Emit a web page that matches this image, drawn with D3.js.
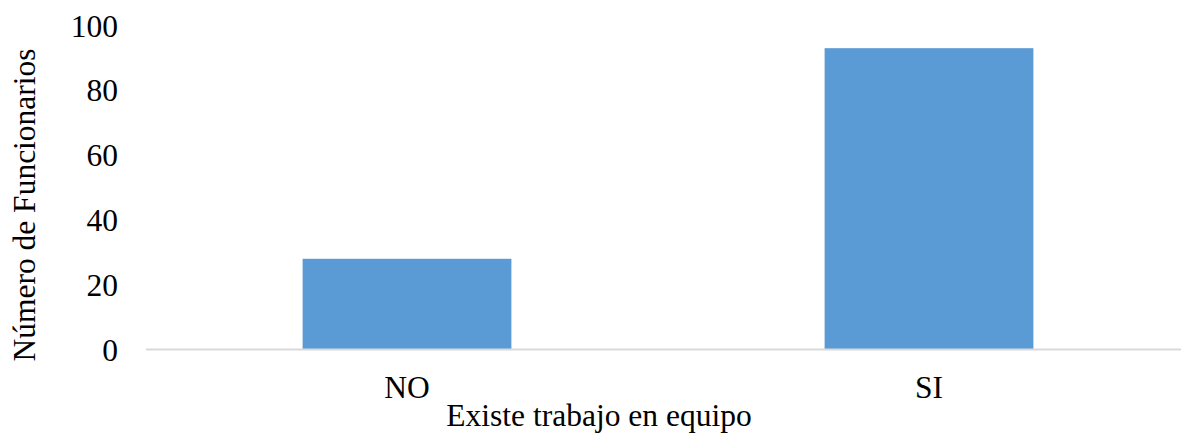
<!DOCTYPE html>
<html>
<head>
<meta charset="utf-8">
<script src="https://cdn.jsdelivr.net/npm/d3@7"></script>
<style>
html,body{margin:0;padding:0;background:#fff;}
text{font-family:"Liberation Serif","Times New Roman",serif;fill:#000;}
</style>
</head>
<body>
<svg id="chart" width="1181" height="434"></svg>
<script>
const categories = ["NO", "SI"];
const values = [28, 93];
const yTicks = [0, 20, 40, 60, 80, 100];
const xTitle = "Existe trabajo en equipo";
const yTitle = "Número de Funcionarios";

const svg = d3.select("#chart");
const x = d3.scaleBand().domain(categories).range([146, 1190]).paddingInner(0.6).paddingOuter(0.3);
const y = d3.scaleLinear().domain([0, 100]).range([349.5, 25.5]);

svg.selectAll("rect.bar").data(values).enter().append("rect")
  .attr("class", "bar")
  .attr("x", (d, i) => x(categories[i]))
  .attr("width", x.bandwidth())
  .attr("y", d => y(d))
  .attr("height", d => y(0) - y(d))
  .attr("fill", "#5B9BD5");

svg.append("line")
  .attr("x1", 146).attr("x2", 1181)
  .attr("y1", y(0)).attr("y2", y(0))
  .attr("stroke", "#d9d9d9").attr("stroke-width", 2);

svg.selectAll("text.ytick").data(yTicks).enter().append("text")
  .attr("class", "ytick")
  .attr("x", 118)
  .attr("y", d => y(d))
  .attr("dy", "0.35em")
  .attr("text-anchor", "end")
  .style("font-size", "31.5px")
  .text(d => d);

svg.selectAll("text.xtick").data(categories).enter().append("text")
  .attr("class", "xtick")
  .attr("x", d => x(d) + x.bandwidth() / 2)
  .attr("y", 398)
  .attr("text-anchor", "middle")
  .style("font-size", "31.5px")
  .text(d => d);

svg.append("text")
  .attr("x", 599).attr("y", 426)
  .attr("text-anchor", "middle")
  .style("font-size", "31.5px")
  .text(xTitle);

svg.append("text")
  .attr("transform", "translate(35,205) rotate(-90)")
  .attr("text-anchor", "middle")
  .style("font-size", "31.5px")
  .text(yTitle);
</script>
</body>
</html>
